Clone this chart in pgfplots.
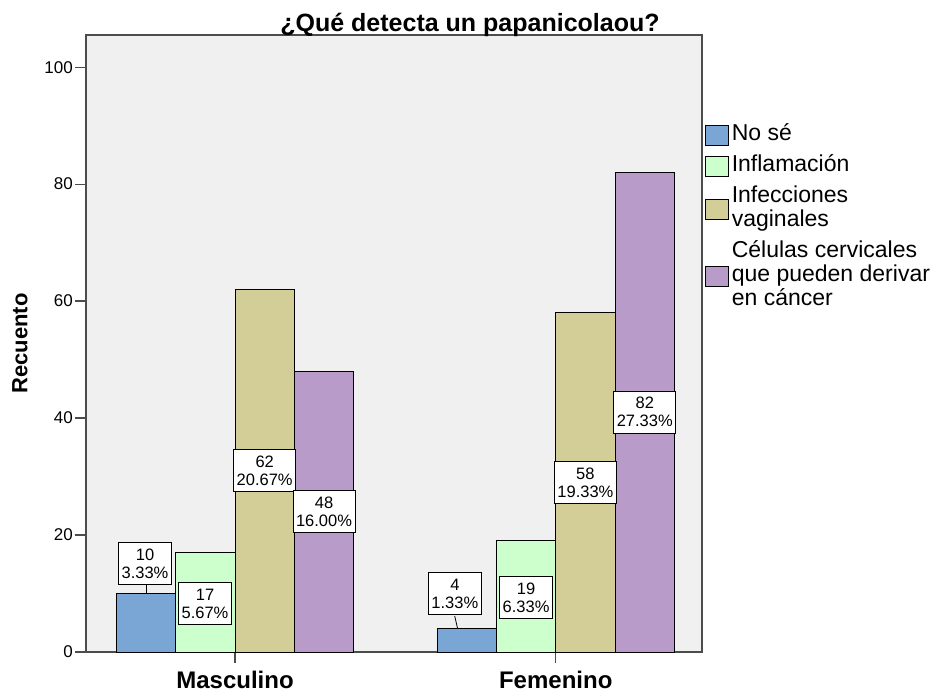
\documentclass[border=0pt]{standalone}
\usepackage{pgfplots}
\pgfplotsset{compat=1.18}
\usepackage{fontspec}
\setmainfont{Liberation Sans}
\definecolor{cNo}{HTML}{7AA6D6}
\definecolor{cInf}{HTML}{CCFFCC}
\definecolor{cVag}{HTML}{D3CE97}
\definecolor{cCel}{HTML}{B99BCA}
\definecolor{bgc}{HTML}{F0F0F0}
\pgfplotstableread{
x y n p
-0.2806 15.1 10 3.33
-0.0935 8.3 17 5.67
0.0925 31.0 62 20.67
0.2775 24.0 48 16.00
0.6855 10.0 4 1.33
0.9075 9.3 19 6.33
1.0925 29.0 58 19.33
1.2775 41.0 82 27.33
}\labeltab
\newcommand{\legtxt}[1]{\fontsize{23}{24}\selectfont\begin{tabular}{@{}l@{}}#1\end{tabular}}
\begin{document}
\begin{tikzpicture}[x=1pt,y=1pt]
\useasboundingbox (0,0) rectangle (939,693);
\begin{axis}[
  at={(86pt,41pt)}, anchor=south west,
  scale only axis, width=616pt, height=617pt,
  xmin=-0.4646, xmax=1.456, ymin=0, ymax=105.5,
  axis background/.style={fill=bgc},
  axis line style={draw=black!70, line width=1.2pt},
  xtick={0,1}, xticklabels={Masculino,Femenino},
  ytick={0,20,40,60,80,100},
  tick align=outside, tick pos=left, major tick length=11pt,
  tick style={draw=black!70, line width=1.2pt},
  /pgf/number format/assume math mode=true,
  yticklabel style={font=\fontsize{17}{19}\selectfont, inner xsep=2pt},
  xticklabel style={font=\bfseries\fontsize{24}{26}\selectfont, yshift=-4.5pt},
  ylabel={Recuento},
  every axis y label/.style={at={([xshift=-66pt]rel axis cs:0,0.5)}, rotate=90, anchor=center, font=\bfseries\fontsize{22}{24}\selectfont},
  title={¿Qué detecta un papanicolaou?},
  every axis title/.style={at={([xshift=76pt,yshift=3pt]rel axis cs:0.5,1)}, anchor=base, font=\bfseries\fontsize{25}{28}\selectfont},
  legend style={at={(1,0.857)}, anchor=north west, xshift=3pt, draw=none, fill=none,
    inner sep=0pt, outer sep=0pt, row sep=7pt, column sep=0pt,
    cells={anchor=west},
    nodes={inner xsep=3pt, inner ysep=0pt, outer sep=0pt, text depth=}},
  legend cell align=left,
  legend image code/.code={\draw[#1, draw=black, line width=0.8pt] (0pt,-10pt) rectangle (23pt,10pt);},
]
\addplot[ybar, bar width=0.185, bar shift=-0.2775, fill=cNo, draw=black, line width=0.8pt] coordinates {(0,10) (1,4)};
\addlegendentry{\legtxt{No sé}}
\addplot[ybar, bar width=0.185, bar shift=-0.0925, fill=cInf, draw=black, line width=0.8pt] coordinates {(0,17) (1,19)};
\addlegendentry{\legtxt{Inflamación}}
\addplot[ybar, bar width=0.185, bar shift=0.0925, fill=cVag, draw=black, line width=0.8pt] coordinates {(0,62) (1,58)};
\addlegendentry{\legtxt{Infecciones\\ vaginales}}
\addplot[ybar, bar width=0.185, bar shift=0.2775, fill=cCel, draw=black, line width=0.8pt] coordinates {(0,48) (1,82)};
\addlegendentry{\legtxt{Células cervicales\\ que pueden derivar\\ en cáncer}}
\addplot[black, line width=0.8pt, forget plot] coordinates {(-0.2765,10) (-0.2765,11.45)};
\addplot[black, line width=0.8pt, forget plot] coordinates {(0.694,4) (0.685,6.15)};
\addplot[draw=none, mark=none, forget plot,
  point meta=explicit symbolic,
  visualization depends on={\thisrow{n}\as\cnt},
  nodes near coords={\pgfmathprintnumber{\cnt}\\\pgfplotspointmeta\%},
  every node near coord/.style={anchor=center, draw=black, fill=white, line width=0.8pt, align=center,
    font=\fontsize{16.5}{18}\selectfont, inner xsep=3pt, inner ysep=6pt}]
  table[x=x, y=y, meta=p] {\labeltab};
\end{axis}
\end{tikzpicture}
\end{document}
